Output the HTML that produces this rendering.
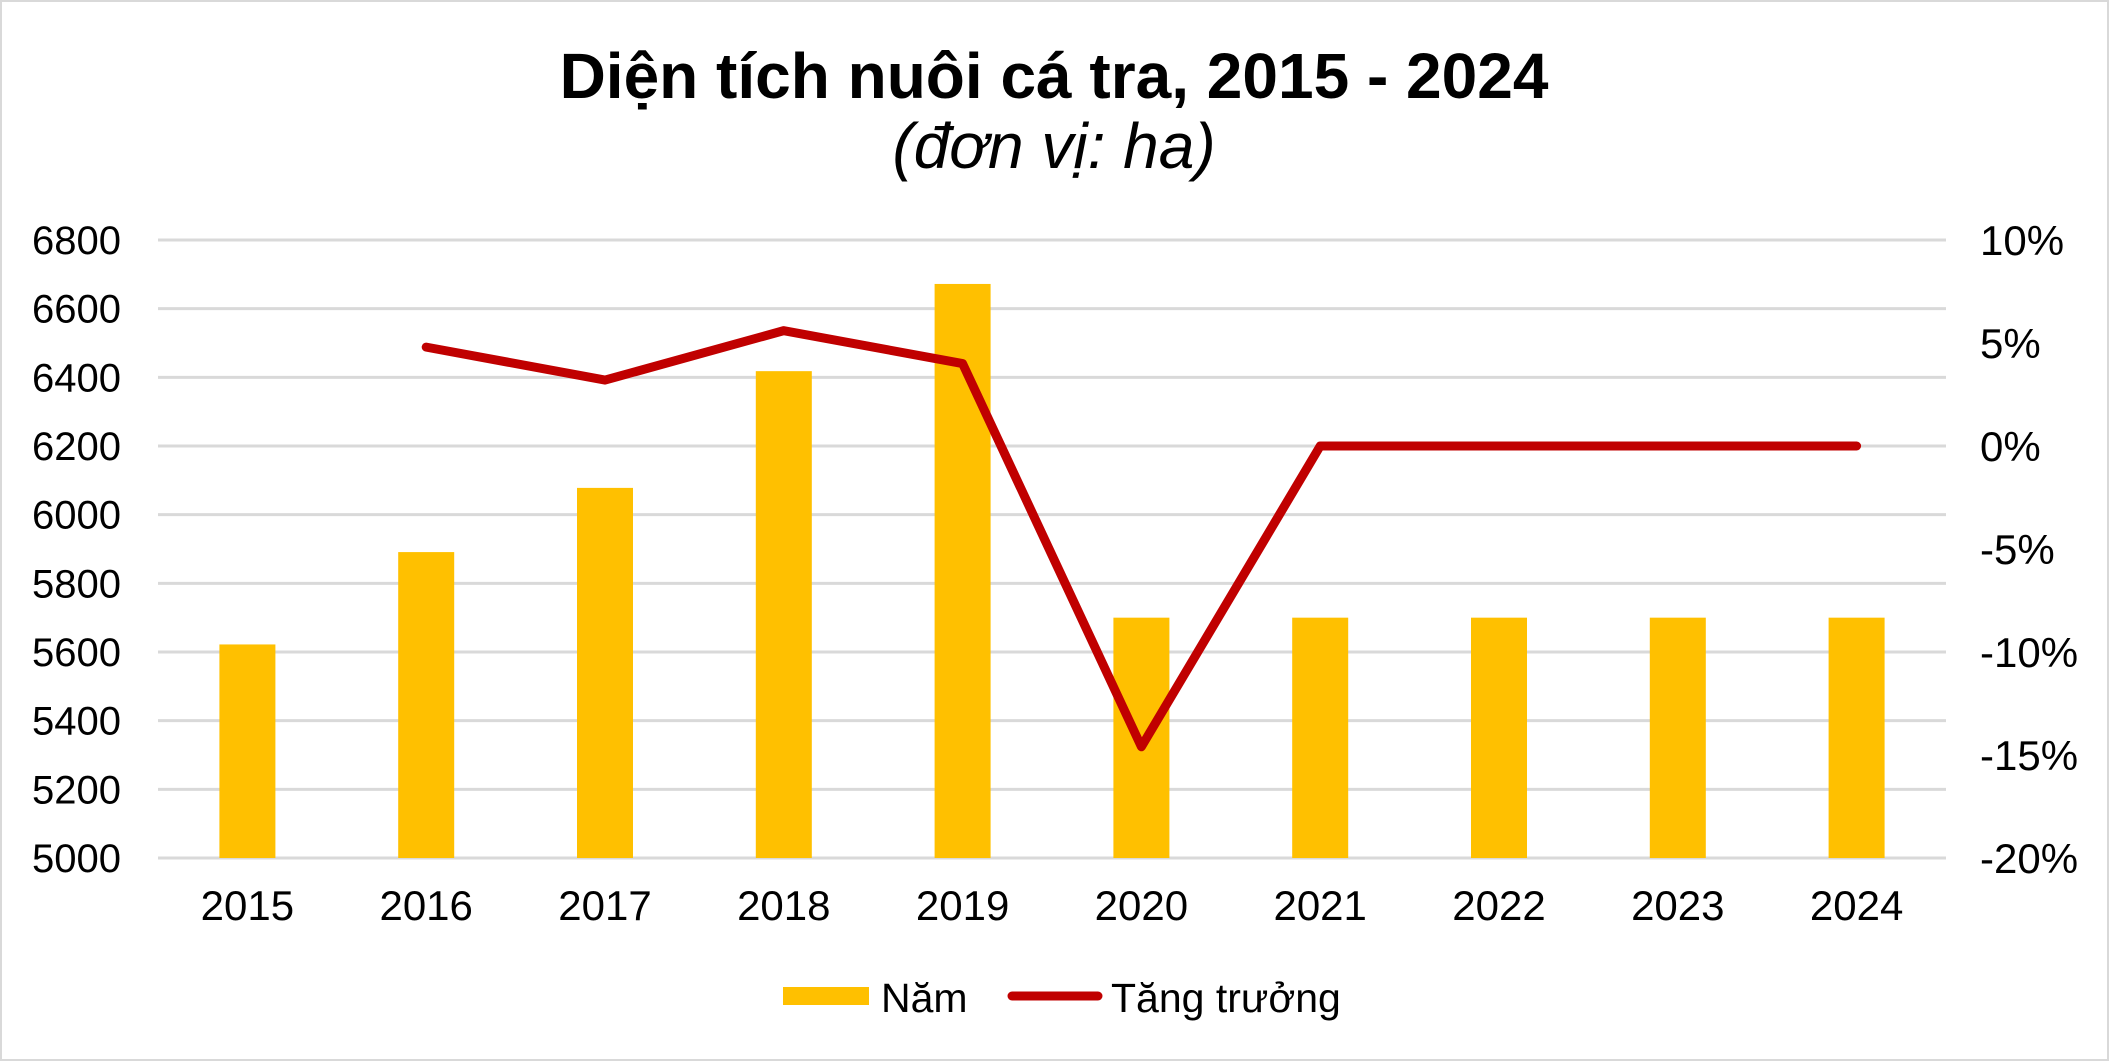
<!DOCTYPE html>
<html><head><meta charset="utf-8">
<style>
html,body{margin:0;padding:0;background:#fff;}
svg{display:block;font-family:"Liberation Sans",Arial,sans-serif;}
</style></head>
<body>
<svg id="chart" width="2109" height="1061" viewBox="0 0 2109 1061" xmlns="http://www.w3.org/2000/svg">
<rect x="1" y="1" width="2107" height="1059" fill="#fff" stroke="#d9d9d9" stroke-width="2"/>
<text x="1054" y="98" text-anchor="middle" font-size="64" font-weight="bold" fill="#000">Diện tích nuôi cá tra, 2015 - 2024</text>
<text x="1054" y="168" text-anchor="middle" font-size="64" font-style="italic" fill="#000">(đơn vị: ha)</text>
<g id="grid"></g><g id="bars"></g><g id="line"></g><g id="axes"></g>
<g>
<rect x="783" y="987" width="86" height="18" fill="#FFC000"/>
<text x="881" y="1012" font-size="41" fill="#000">Năm</text>
<line x1="1012" y1="996" x2="1098" y2="996" stroke="#C00000" stroke-width="9" stroke-linecap="round"/>
<text x="1111" y="1012" font-size="41" fill="#000">Tăng trưởng</text>
</g>
</svg>
<script>
const categories = ["2015","2016","2017","2018","2019","2020","2021","2022","2023","2024"];
const areaValues = [5622,5891,6078,6418,6672,5700,5700,5700,5700,5700];
const growthValues = [null,4.8,3.2,5.6,4.0,-14.6,0,0,0,0];
const leftTicks = [5000,5200,5400,5600,5800,6000,6200,6400,6600,6800];
const rightTicks = [-20,-15,-10,-5,0,5,10];

const NS="http://www.w3.org/2000/svg";
const L=158,R=1946,T=240,B=858;
const cw=(R-L)/categories.length;
const xC=i=>L+cw*(i+0.5);
const yL=v=>B-(v-5000)/(6800-5000)*(B-T);
const yR=v=>B-(v+20)/30*(B-T);
function mk(tag,attrs,parent,text){const e=document.createElementNS(NS,tag);for(const k in attrs)e.setAttribute(k,attrs[k]);if(text!==undefined)e.textContent=text;document.getElementById(parent).appendChild(e);return e;}

leftTicks.forEach(v=>{
  const g=mk('line',{x1:L,x2:R,y1:yL(v),y2:yL(v),stroke:'#d9d9d9','stroke-width':3},'grid');
  
  
  const t=mk('text',{x:121,y:yL(v)+14,'text-anchor':'end','font-size':40,fill:'#000'},'axes',String(v));
  
  
});
rightTicks.forEach(v=>{
  const t=mk('text',{x:1980,y:yR(v)+15,'text-anchor':'start','font-size':42,fill:'#000'},'axes',v+'%');
  
  
});
categories.forEach((c,i)=>{
  const bw=56;
  const b=mk('rect',{x:xC(i)-bw/2,y:yL(areaValues[i]),width:bw,height:B-yL(areaValues[i]),fill:'#FFC000'},'bars');
  
  
  const t=mk('text',{x:xC(i),y:920,'text-anchor':'middle','font-size':42,fill:'#000'},'axes',c);
  
  
});
const pts=[];
growthValues.forEach((v,i)=>{if(v!==null)pts.push(xC(i)+','+yR(v));});
const pl=mk('polyline',{points:pts.join(' '),fill:'none',stroke:'#C00000','stroke-width':9,'stroke-linejoin':'round','stroke-linecap':'round'},'line');


</script>
</body></html>
